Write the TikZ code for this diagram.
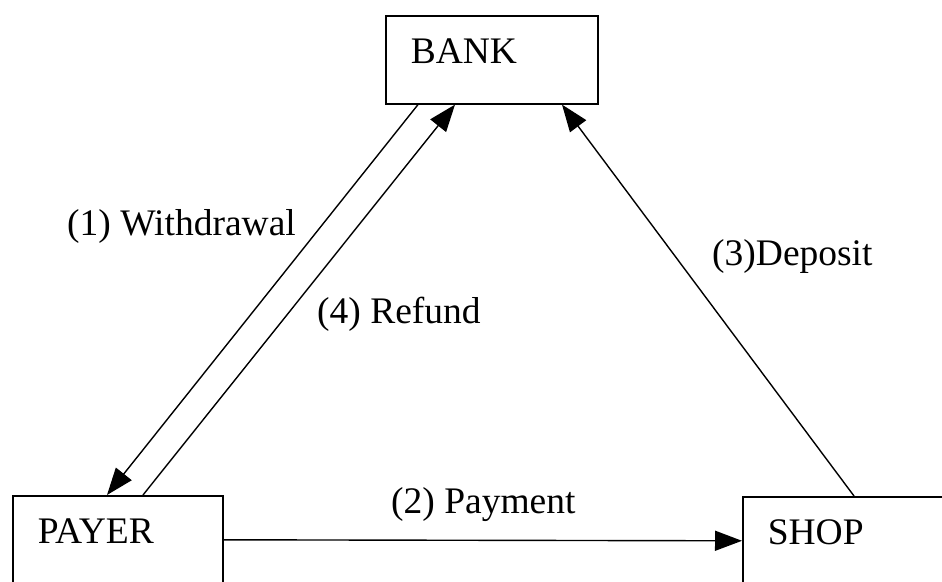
\documentclass[tikz,border=0pt]{standalone}
\usepackage{fontspec}
\setmainfont{Liberation Serif}
\usetikzlibrary{arrows.meta}

\begin{document}
\begin{tikzpicture}[x=1pt,y=-1pt,
  every node/.style={font=\fontsize{37.5}{44}\selectfont},
  party/.style={draw, line width=1.6pt, rectangle, anchor=north west,
    minimum height=88pt, inner xsep=25pt, align=left,
    text height=26pt, text depth=18pt},
  flow/.style={line width=1.4pt, -{Triangle[length=27pt,width=20pt]}},
  lbl/.style={anchor=base west, inner sep=0pt}]
  \useasboundingbox (0,0) rectangle (942,581);
  \clip (0,0) rectangle (942,581);

  % the three parties
  \node[party, text width=162pt] (bank)  at (385,15)  {BANK};
  \node[party, text width=160pt] (payer) at (12,495)  {PAYER};
  \node[party, text width=160pt] (shop)  at (742,496) {SHOP};

  % money flows
  \draw[flow] ([xshift=33pt]bank.south west) -- ([xshift=95pt]payer.north west);
  \draw[flow] ([xshift=131pt]payer.north west) -- ([xshift=70pt]bank.south west);
  \draw[flow] ([xshift=112pt]shop.north west) -- ([xshift=177pt]bank.south west);
  \draw[flow] (payer.east) -- (shop.west);

  % step labels
  \node[lbl] (lwd)  at (67,235)  {(1) Withdrawal};
  \node[lbl] (lpay) at (391,513) {(2) Payment};
  \node[lbl] (ldep) at (712,265) {(3)Deposit};
  \node[lbl] (lref) at (317,323) {(4) Refund};
\end{tikzpicture}
\end{document}
